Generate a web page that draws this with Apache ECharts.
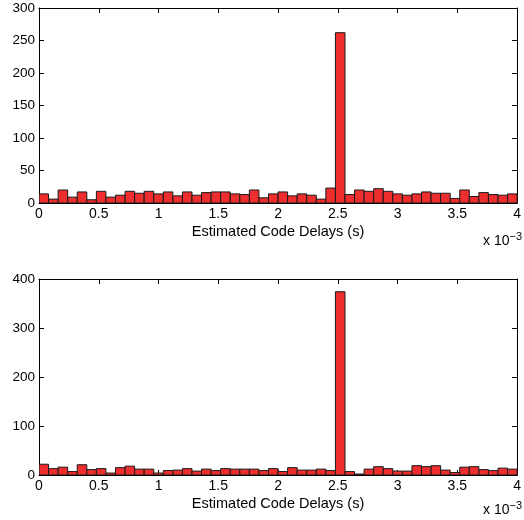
<!DOCTYPE html>
<html>
<head>
<meta charset="utf-8">
<style>
  html, body { margin: 0; padding: 0; background: #fff; }
  #chart { width: 524px; height: 520px; }
</style>
<script src="https://cdn.jsdelivr.net/npm/echarts@6/dist/echarts.min.js"></script>
</head>
<body>
<div id="chart"></div>
<script>
// Histogram of estimated code delays (x axis in units of 1e-3 s), 50 bins over [0, 4]
const binWidth = 0.08;
const binCount = 50;

const countsTop = [
  14, 6, 20, 9, 17, 5, 18, 9, 12, 18,
  15, 18, 14, 17, 11, 17, 12, 16, 17, 17,
  14, 13, 20, 8, 14, 17, 11, 14, 12, 6,
  23, 262, 13, 20, 18, 22, 18, 14, 12, 14,
  17, 15, 15, 7, 20, 10, 16, 13, 12, 14
];

const countsBottom = [
  22, 13, 16, 7, 21, 11, 13, 4, 15, 18,
  12, 12, 4, 9, 10, 13, 8, 12, 9, 13,
  12, 12, 12, 9, 13, 7, 15, 10, 10, 12,
  9, 374, 7, 2, 12, 17, 13, 8, 8, 19,
  17, 19, 10, 5, 16, 17, 11, 9, 14, 12
];

const xTicks = [0, 0.5, 1, 1.5, 2, 2.5, 3, 3.5, 4];
const yTicksTop = [0, 50, 100, 150, 200, 250, 300];
const yTicksBottom = [0, 100, 200, 300, 400];
const xLabel = 'Estimated Code Delays (s)';

const FONT = '"Liberation Sans", Arial, Helvetica, sans-serif';
const BAR_FILL = '#ee2e2e';
const BAR_EDGE = '#1a1a1a';

function histData(counts) {
  return counts.map((c, i) => [i * binWidth, (i + 1) * binWidth, c]);
}

function renderBar(params, api) {
  const p0 = api.coord([api.value(0), 0]);
  const p1 = api.coord([api.value(1), api.value(2)]);
  return {
    type: 'rect',
    shape: { x: p0[0], y: p1[1], width: p1[0] - p0[0], height: p0[1] - p1[1] },
    style: { fill: BAR_FILL, stroke: BAR_EDGE, lineWidth: 1 }
  };
}

function xAxes(gridIndex) {
  const base = {
    type: 'value', gridIndex,
    min: xTicks[0], max: xTicks[xTicks.length - 1],
    interval: xTicks[1] - xTicks[0],
    axisLine: { show: true, onZero: false, lineStyle: { color: '#000', width: 1 } },
    axisTick: { show: true, inside: true, length: 5, lineStyle: { color: '#000' } },
    splitLine: { show: false }
  };
  return [
    Object.assign({}, base, {
      position: 'bottom',
      axisLabel: { color: '#000', fontSize: 14, fontFamily: FONT, margin: 4,
                   formatter: v => String(v) },
      name: xLabel, nameLocation: 'middle', nameGap: 21,
      nameTextStyle: { color: '#000', fontSize: 14.5, fontFamily: FONT }
    }),
    Object.assign({}, base, { position: 'top', axisLabel: { show: false } })
  ];
}

function yAxes(gridIndex, ticks) {
  const base = {
    type: 'value', gridIndex,
    min: ticks[0], max: ticks[ticks.length - 1],
    interval: ticks[1] - ticks[0],
    axisLine: { show: true, onZero: false, lineStyle: { color: '#000', width: 1 } },
    axisTick: { show: true, inside: true, length: 5, lineStyle: { color: '#000' } },
    splitLine: { show: false }
  };
  return [
    Object.assign({}, base, {
      position: 'left',
      axisLabel: { color: '#000', fontSize: 13.5, fontFamily: FONT, margin: 4 }
    }),
    Object.assign({}, base, { position: 'right', axisLabel: { show: false } })
  ];
}

function exponentLabel(top) {
  return {
    type: 'text', left: 483, top: top,
    style: {
      text: 'x 10{sup|\u22123}',
      rich: { sup: { fontSize: 11, fontFamily: FONT, fill: '#000', verticalAlign: 'top', padding: [0, 0, 9, 0] } },
      fontSize: 14, fontFamily: FONT, fill: '#000'
    }
  };
}

const chart = echarts.init(document.getElementById('chart'), null, { renderer: 'canvas' });

chart.setOption({
  animation: false,
  backgroundColor: '#fff',
  grid: [
    { left: 39, top: 8, width: 483, height: 195 },
    { left: 39, top: 279, width: 483, height: 196 }
  ],
  xAxis: [...xAxes(0), ...xAxes(1)],
  yAxis: [...yAxes(0, yTicksTop), ...yAxes(1, yTicksBottom)],
  series: [
    { type: 'custom', xAxisIndex: 0, yAxisIndex: 0, renderItem: renderBar,
      encode: { x: [0, 1], y: 2 }, data: histData(countsTop), clip: true },
    { type: 'custom', xAxisIndex: 2, yAxisIndex: 2, renderItem: renderBar,
      encode: { x: [0, 1], y: 2 }, data: histData(countsBottom), clip: true }
  ],
  graphic: [exponentLabel(231), exponentLabel(500)]
});
</script>
</body>
</html>
